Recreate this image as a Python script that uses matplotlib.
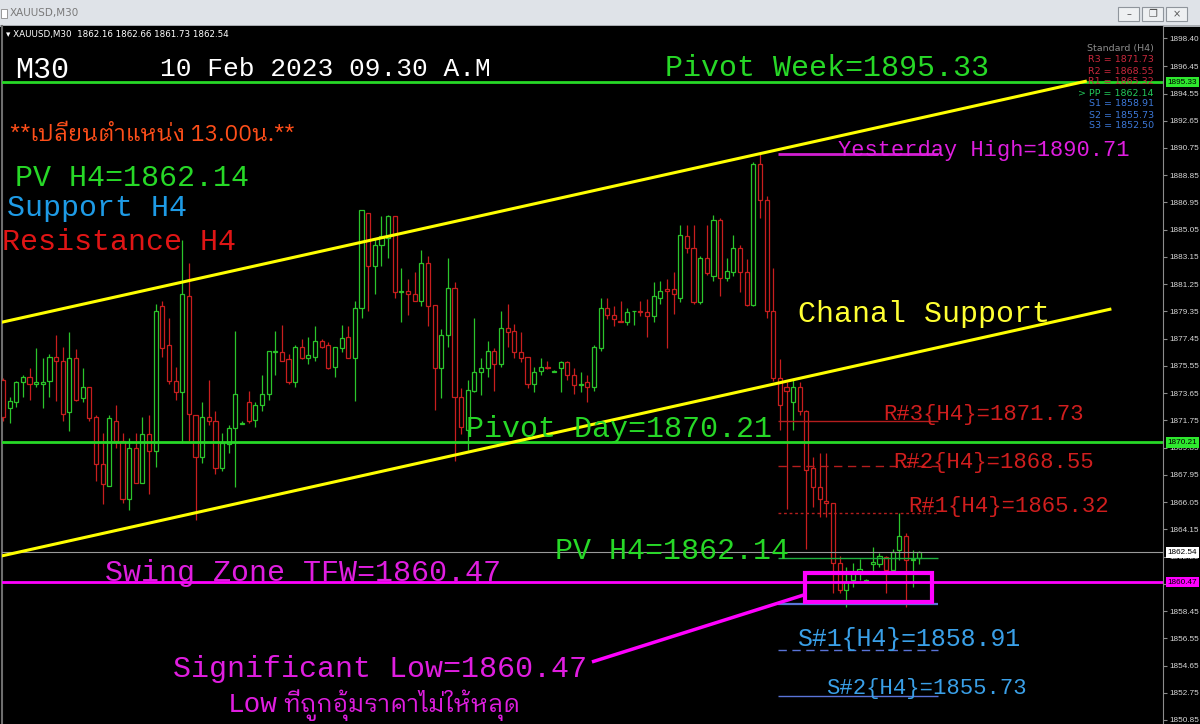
import matplotlib
matplotlib.use('Agg')
import matplotlib.pyplot as plt
from matplotlib import font_manager
from matplotlib.patches import Rectangle
import numpy as np

W, H = 1200, 724

# XAUUSD M30 candles, oldest first
opens = [1874.6, 1872.6, 1873.0, 1874.4, 1874.8, 1874.3, 1874.3, 1874.5, 1876.2, 1875.9,
         1872.3, 1876.1, 1873.3, 1874.1, 1872.0, 1868.7, 1867.2, 1871.7, 1870.3, 1866.3,
         1869.8, 1867.4, 1870.8, 1869.6, 1879.7, 1877.0, 1874.5, 1873.7, 1880.4, 1872.1,
         1869.2, 1872.0, 1871.7, 1868.4, 1870.1, 1871.2, 1871.5, 1873.0, 1871.8, 1872.8,
         1873.6, 1876.5, 1876.5, 1876.0, 1874.4, 1876.9, 1876.1, 1876.2, 1877.3, 1877.0,
         1875.5, 1876.8, 1877.6, 1876.1, 1879.6, 1886.2, 1882.5, 1884.0, 1884.5, 1886.0,
         1880.7, 1880.8, 1880.6, 1880.1, 1882.7, 1879.8, 1875.4, 1877.7, 1881.0, 1873.4,
         1871.1, 1873.8, 1875.1, 1875.4, 1876.6, 1875.7, 1878.2, 1878.0, 1876.5, 1876.2,
         1874.3, 1875.2, 1875.5, 1875.15, 1875.4, 1875.8, 1874.9, 1874.2, 1874.4, 1874.1,
         1876.8, 1879.6, 1879.1, 1878.7, 1878.6, 1879.35, 1879.4, 1879.3, 1879.0, 1880.3,
         1880.9, 1880.9, 1880.3, 1884.6, 1883.8, 1880.0, 1883.1, 1881.8, 1885.7, 1881.7,
         1882.1, 1883.8, 1882.1, 1879.8, 1889.6, 1887.1, 1879.4, 1874.7, 1874.1, 1873.0,
         1874.1, 1872.4, 1868.4, 1867.1, 1866.1, 1866.0, 1861.8, 1859.9, 1860.6, 1861.2,
         1860.55, 1861.7, 1861.7, 1862.2, 1861.3, 1862.7, 1863.7, 1862.0, 1862.16]
highs = [1874.7, 1873.4, 1874.5, 1874.9, 1875.4, 1876.8, 1876.1, 1876.4, 1877.7, 1876.9,
         1877.9, 1876.7, 1875.4, 1874.1, 1872.1, 1870.9, 1872.1, 1872.8, 1870.9, 1870.5,
         1870.9, 1872.0, 1872.1, 1879.9, 1880.1, 1878.9, 1875.5, 1884.3, 1882.7, 1872.1,
         1873.0, 1874.6, 1872.4, 1870.9, 1871.4, 1878.0, 1871.7, 1873.8, 1873.0, 1874.9,
         1876.6, 1878.0, 1878.4, 1876.4, 1877.0, 1877.4, 1877.6, 1878.3, 1877.4, 1877.2,
         1876.9, 1878.4, 1878.3, 1880.1, 1886.4, 1886.2, 1884.5, 1886.0, 1886.1, 1886.0,
         1882.4, 1881.6, 1882.1, 1883.6, 1883.2, 1879.8, 1878.1, 1883.1, 1881.4, 1874.0,
         1874.6, 1878.9, 1876.1, 1877.3, 1876.8, 1879.4, 1879.9, 1878.5, 1877.9, 1876.2,
         1875.5, 1876.1, 1875.9, 1875.25, 1875.9, 1875.9, 1875.4, 1875.1, 1874.9, 1877.0,
         1880.3, 1880.3, 1879.7, 1880.1, 1879.6, 1879.4, 1880.1, 1880.2, 1881.4, 1881.5,
         1881.6, 1882.1, 1885.4, 1885.4, 1885.4, 1883.2, 1885.4, 1886.1, 1885.9, 1883.1,
         1884.7, 1884.0, 1883.0, 1889.8, 1890.3, 1887.4, 1882.4, 1876.0, 1874.4, 1874.6,
         1874.4, 1872.5, 1869.2, 1869.5, 1869.5, 1866.0, 1862.3, 1861.5, 1861.8, 1862.1,
         1860.65, 1862.9, 1862.5, 1862.3, 1862.8, 1865.3, 1863.9, 1862.7, 1862.66]
lows = [1871.7, 1871.6, 1872.7, 1873.4, 1873.2, 1874.1, 1872.6, 1873.4, 1873.1, 1871.7,
        1871.0, 1873.1, 1873.0, 1871.7, 1867.5, 1865.9, 1867.2, 1869.8, 1866.0, 1865.5,
        1867.4, 1867.4, 1866.6, 1868.5, 1876.2, 1874.3, 1873.2, 1870.2, 1870.3, 1864.8,
        1868.8, 1871.4, 1868.0, 1868.2, 1869.5, 1867.1, 1871.5, 1871.6, 1871.3, 1872.4,
        1873.2, 1874.9, 1875.9, 1874.3, 1874.1, 1876.0, 1875.7, 1875.9, 1876.8, 1875.3,
        1874.8, 1876.5, 1876.1, 1873.1, 1878.9, 1879.4, 1880.6, 1882.5, 1883.1, 1880.3,
        1878.6, 1879.1, 1880.1, 1879.7, 1878.3, 1872.5, 1873.3, 1876.9, 1868.9, 1870.8,
        1869.7, 1873.7, 1873.5, 1874.8, 1873.8, 1875.5, 1876.9, 1876.1, 1875.8, 1874.0,
        1873.7, 1874.9, 1875.3, 1875.1, 1873.7, 1874.6, 1873.6, 1873.7, 1873.0, 1873.8,
        1876.6, 1878.8, 1878.3, 1878.6, 1878.4, 1878.4, 1879.0, 1877.6, 1878.6, 1879.9,
        1876.8, 1879.2, 1880.0, 1883.4, 1879.9, 1879.9, 1881.9, 1881.5, 1880.4, 1881.5,
        1881.8, 1880.7, 1879.7, 1879.7, 1885.9, 1878.9, 1874.5, 1871.1, 1865.6, 1871.1,
        1872.1, 1862.8, 1865.7, 1865.0, 1865.0, 1859.7, 1859.7, 1858.7, 1860.1, 1860.6,
        1860.5, 1861.1, 1861.5, 1859.7, 1861.1, 1862.0, 1858.7, 1860.1, 1861.73]
closes = [1872.0, 1873.1, 1874.4, 1874.8, 1874.3, 1874.4, 1874.4, 1876.2, 1875.9, 1872.2,
          1876.1, 1873.2, 1874.1, 1871.9, 1868.7, 1867.3, 1871.9, 1870.3, 1866.3, 1869.8,
          1867.4, 1870.8, 1869.6, 1879.4, 1876.8, 1874.5, 1873.7, 1880.6, 1872.2, 1869.2,
          1872.0, 1871.7, 1868.4, 1870.2, 1871.2, 1873.6, 1871.6, 1871.7, 1872.8, 1873.6,
          1876.6, 1876.55, 1875.9, 1874.4, 1876.9, 1876.1, 1876.3, 1877.3, 1876.9, 1875.4,
          1876.9, 1877.5, 1876.1, 1879.6, 1886.4, 1882.5, 1884.0, 1884.6, 1886.0, 1880.7,
          1880.8, 1880.6, 1880.1, 1882.7, 1879.7, 1875.4, 1877.7, 1881.0, 1873.4, 1871.3,
          1873.9, 1875.1, 1875.4, 1876.6, 1875.7, 1878.2, 1877.9, 1876.5, 1876.1, 1874.3,
          1875.1, 1875.5, 1875.4, 1875.2, 1875.8, 1874.9, 1874.2, 1874.25, 1874.1, 1876.9,
          1879.6, 1879.1, 1878.8, 1878.6, 1879.3, 1879.4, 1879.3, 1879.0, 1880.4, 1880.8,
          1880.8, 1880.6, 1884.7, 1883.8, 1880.0, 1883.1, 1882.0, 1885.7, 1881.7, 1882.2,
          1883.8, 1882.1, 1879.8, 1889.6, 1887.1, 1879.4, 1874.7, 1872.85, 1873.8, 1874.1,
          1872.4, 1868.3, 1867.1, 1866.3, 1866.0, 1861.8, 1859.9, 1860.5, 1861.2, 1861.4,
          1860.6, 1861.9, 1862.3, 1861.3, 1862.6, 1863.7, 1862.0, 1862.1, 1862.54]

# levels
pivot_week = 1895.33
pivot_day = 1870.21
swing_zone = 1860.47
last_price = 1862.54
yday_high = 1890.3          # where the magenta line sits (label says 1890.71)
h4_names = ['R3', 'R2', 'R1', 'PP', 'S1', 'S2', 'S3']
h4_levels = [1871.73, 1868.55, 1865.32, 1862.14, 1858.91, 1855.73, 1852.50]
h4_span = (116.7, 140.8)    # candle range the H4 pivot lines cover

# yellow channel (candle index, price)
chan_top = [(-0.15, 1878.6), (163.0, 1895.4)]
chan_bot = [(-0.15, 1862.3), (166.7, 1879.5)]
# magenta pointer and box round the significant low
pointer = [(88.7, 1854.9), (120.8, 1859.6)]
low_box = (120.8, 1859.1, 19.1, 2.0)  # x, y, width, height

axis_ticks = [1898.40, 1896.45, 1894.55, 1892.65, 1890.75, 1888.85, 1886.95, 1885.05,
              1883.15, 1881.25, 1879.35, 1877.45, 1875.55, 1873.65, 1871.75, 1869.85,
              1867.95, 1866.05, 1864.15, 1862.25, 1860.35, 1858.45, 1856.55, 1854.65,
              1852.75, 1850.85]

GREEN = '#27d827'
UPC = '#2bc42b'
DNC = '#c81e1e'
MAG = '#ff00ff'
MONO = 'Liberation Mono'
SMALL = 'Liberation Sans'

# looped Thai faces look closest to the Tahoma used on the chart
have = {f.name for f in font_manager.fontManager.ttflist}
THAI = [f for f in ('IBM Plex Sans Thai Looped', 'Sarabun', 'Noto Sans Thai Looped',
                    'IBM Plex Sans Thai', 'Anuphan') if f in have][:1] + ['DejaVu Sans']

fig = plt.figure(figsize=(W / 100, H / 100), dpi=100, facecolor='black')
ax = fig.add_axes([2 / W, 0, 1161 / W, (H - 26) / H])
ax.set_facecolor('black')
ax.set_xlim(-0.15, 174.7)
ax.set_ylim(1850.57, 1899.26)

# candles, hollow bodies like MT4
o, hi, lo, c = map(np.array, (opens, highs, lows, closes))
idx = np.arange(len(o))
cols = np.where(c >= o, UPC, DNC)
ax.vlines(idx, lo, hi, colors=cols, lw=0.9, zorder=3)
ax.bar(idx, np.maximum(np.abs(c - o), 0.06), bottom=np.minimum(o, c), width=0.62,
       facecolor='black', edgecolor=cols, lw=0.9, zorder=4)

# horizontal levels
ax.axhline(pivot_week, color=GREEN, lw=2, zorder=5)
ax.axhline(pivot_day, color=GREEN, lw=2, zorder=5)
ax.axhline(swing_zone, color=MAG, lw=2, zorder=5)
ax.axhline(last_price, color='#9a9a9a', lw=0.8, zorder=5)
ax.hlines(yday_high, *h4_span, color='#d21fd2', lw=2, zorder=5)

h4_styles = [('#b41e1e', '-'), ('#b41e1e', (0, (6, 4))), ('#b41e1e', (0, (2, 2))),
             ('#20b040', '-'), ('#5a74d8', '-'), ('#5a74d8', (0, (6, 4))), ('#5a74d8', '-')]
for lvl, (col, ls) in zip(h4_levels, h4_styles):
    ax.hlines(lvl, *h4_span, color=col, ls=ls, lw=1.6 if lvl == h4_levels[4] else 1, zorder=5)

for pts in (chan_top, chan_bot):
    xs, ys = zip(*pts)
    ax.plot(xs, ys, color='#ffff00', lw=2.2, zorder=6)
xs, ys = zip(*pointer)
ax.plot(xs, ys, color=MAG, lw=2.5, zorder=6, solid_capstyle='butt')
ax.add_patch(Rectangle(low_box[:2], low_box[2], low_box[3], fill=False, ec=MAG, lw=3, zorder=6))

# price scale on the right
for s in ('top', 'bottom'):
    ax.spines[s].set_visible(False)
ax.spines['right'].set_color('#8c8c8c')
ax.spines['left'].set_color('#6e6e6e')
ax.spines['left'].set_linewidth(1.5)
ax.set_xticks([])
ax.yaxis.tick_right()
ax.set_yticks(axis_ticks)
ax.set_yticklabels([f'{t:.2f}' for t in axis_ticks], family=SMALL)
ax.tick_params(axis='y', colors='#8c8c8c', labelcolor='#d8d8d8', labelsize=5.9,
               length=3, width=0.8, pad=1.5)
ytr = ax.get_yaxis_transform()
for val, fc in [(pivot_week, '#2ee82e'), (pivot_day, '#2ee82e'), (last_price, 'white'), (swing_zone, MAG)]:
    ax.text(1.004, val, f'{val:.2f}', transform=ytr, ha='left', va='center', fontsize=5.9,
            family=SMALL, color='black', clip_on=False, zorder=10,
            bbox=dict(boxstyle='square,pad=0.2', fc=fc, ec='none'))


def ftext(x, y, s, **kw):
    fig.text(x / W, 1 - y / H, s, **kw)


# window title bar
fig.add_artist(Rectangle((0, 1 - 25 / H), 1, 25 / H, transform=fig.transFigure,
                         fc='#dfe3e8', ec='none', zorder=0))
fig.add_artist(Rectangle((0, 1 - 27 / H), 1, 2 / H, transform=fig.transFigure,
                         fc='#a9adb2', ec='none', zorder=0))
fig.add_artist(Rectangle((1 / W, 1 - 18 / H), 6 / W, 9 / H, transform=fig.transFigure,
                         fc='white', ec='#8a8a8a', lw=0.6))
ftext(10, 13, 'XAUUSD,M30', fontsize=7.5, color='#7a7a7a', va='center')
for bx, sym in [(1118, '\u2013'), (1142, '\u2750'), (1166, '\u00d7')]:
    fig.add_artist(Rectangle((bx / W, 1 - 21 / H), 21 / W, 14 / H, transform=fig.transFigure,
                             fc='#eef0f2', ec='#8f959c', lw=0.8))
    ftext(bx + 10.5, 14, sym, fontsize=7, color='#555555', ha='center', va='center')

ftext(6, 35, '\u25be XAUUSD,M30  1862.16 1862.66 1861.73 1862.54', fontsize=6.3,
      color='white', va='center')

# H4 pivot panel
ftext(1154, 49, 'Standard (H4)', fontsize=6.8, color='#8c8c8c', ha='right', va='center')
panel_cols = ['#c8283c'] * 3 + ['#22c85a'] + ['#3c78d8'] * 3
for k, (nm, lvl, col) in enumerate(zip(h4_names, h4_levels, panel_cols)):
    s = f'{nm} = {lvl:.2f}'
    if nm == 'PP':
        s = '> ' + s
    ftext(1154, 60 + 11 * k, s, fontsize=6.8, color=col, ha='right', va='center', zorder=1)

# annotations
big = dict(family=MONO, fontsize=21.6, va='baseline')
mid = dict(family=MONO, fontsize=16, va='baseline')
ftext(15, 78, 'M30', color='white', **big)
ftext(160, 76, '10 Feb 2023 09.30 A.M', color='white', family=MONO, fontsize=18.9, va='baseline')
ftext(665, 76, 'Pivot Week=1895.33', color=GREEN, **big)
ftext(10, 141, '**เปลี่ยนตำแหน่ง 13.00น.**', color='#ff4f1a', family=THAI, fontsize=16.5, va='baseline')
ftext(15, 186, 'PV H4=1862.14', color=GREEN, **big)
ftext(7, 216, 'Support H4', color='#1e9be6', **big)
ftext(2, 250, 'Resistance H4', color='#e01515', **big)
ftext(838, 156, 'Yesterday High=1890.71', color='#e01ee0', family=MONO, fontsize=15.8, va='baseline')
ftext(798, 322, 'Chanal Support', color='#ffff33', **big)
ftext(466, 437, 'Pivot Day=1870.21', color=GREEN, **big)
ftext(883, 420, 'R#3{H4}=1871.73', color='#d01e1e', **mid)
ftext(893, 468, 'R#2{H4}=1868.55', color='#d01e1e', **mid)
ftext(908, 512, 'R#1{H4}=1865.32', color='#d01e1e', **mid)
ftext(555, 559, 'PV H4=1862.14', color=GREEN, **big)
ftext(105, 581, 'Swing Zone TFW=1860.47', color='#e01ee0', **big)
ftext(797, 646, 'S#1{H4}=1858.91', color='#3aa0e8', family=MONO, fontsize=17.9, va='baseline')
ftext(826, 694, 'S#2{H4}=1855.73', color='#3aa0e8', **mid)
ftext(173, 677, 'Significant Low=1860.47', color='#e01ee0', **big)
ftext(228, 712, 'Low', color='#e01ee0', family=MONO, fontsize=20, va='baseline')
ftext(283, 712, 'ที่ถูกอุ้มราคาไม่ให้หลุด', color='#e01ee0', family=THAI, fontsize=17.5, va='baseline')

fig.savefig('out.png', dpi=100, facecolor='black')
